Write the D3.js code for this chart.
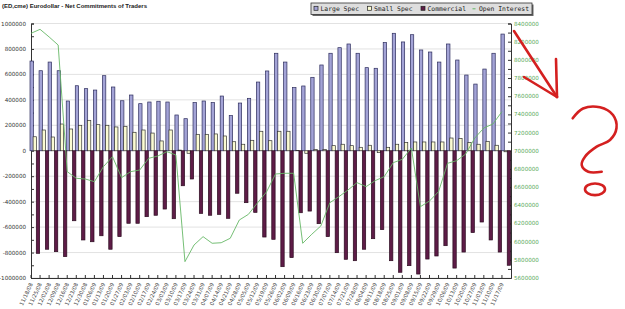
<!DOCTYPE html>
<html>
<head>
<meta charset="utf-8">
<script src="https://cdn.jsdelivr.net/npm/d3@7"></script>
<style>
  body { margin: 0; background: #fff; }
  svg { display: block; }
</style>
</head>
<body>
<svg id="chart" width="625" height="309"></svg>
<script>
// weekly report dates
const dates = ["11/18/08","11/25/08","12/02/08","12/09/08","12/16/08","12/23/08","12/30/08",
  "01/06/09","01/13/09","01/20/09","01/27/09","02/03/09","02/10/09","02/17/09","02/24/09",
  "03/03/09","03/10/09","03/17/09","03/24/09","03/31/09","04/07/09","04/14/09","04/21/09",
  "04/28/09","05/05/09","05/12/09","05/19/09","05/26/09","06/02/09","06/09/09","06/16/09",
  "06/23/09","06/30/09","07/07/09","07/14/09","07/21/09","07/28/09","08/04/09","08/11/09",
  "08/18/09","08/25/09","09/01/09","09/08/09","09/15/09","09/22/09","09/29/09","10/06/09",
  "10/13/09","10/20/09","10/27/09","11/03/09","11/10/09","11/17/09"];

const largeSpec = [705000,629000,697000,629000,391000,511000,488000,477000,590000,501000,
  393000,438000,370000,383000,389000,383000,281000,252000,378000,391000,378000,430000,
  276000,375000,412000,540000,627000,766000,697000,496000,509000,577000,674000,766000,
  810000,839000,766000,653000,648000,850000,923000,855000,912000,792000,776000,697000,
  839000,713000,595000,524000,642000,766000,917000];

const smallSpec = [110000,163000,108000,210000,171000,200000,239000,205000,200000,187000,
  192000,145000,163000,139000,77000,163000,5000,-20000,129000,129000,132000,116000,
  71000,51000,82000,153000,79000,153000,153000,3000,-20000,11000,11000,40000,
  51000,40000,27000,43000,-15000,27000,51000,64000,69000,69000,69000,69000,
  100000,97000,64000,51000,74000,43000,-8000];

const commercial = [-806000,-774000,-793000,-832000,-550000,-701000,-715000,-668000,-774000,-675000,
  -570000,-570000,-518000,-507000,-458000,-534000,-275000,-222000,-492000,-507000,-500000,-531000,
  -334000,-408000,-484000,-678000,-696000,-911000,-840000,-487000,-474000,-573000,-675000,-801000,
  -853000,-864000,-774000,-691000,-620000,-864000,-955000,-903000,-969000,-851000,-827000,-746000,
  -922000,-796000,-643000,-560000,-701000,-796000,-900000];

const openInterest = [8292000,8336000,8252000,8163000,6770000,6697000,6689000,6660000,6825000,6935000,
  6704000,6770000,6788000,6917000,6942000,6990000,6953000,5780000,5963000,6055000,5982000,5988000,
  6037000,6238000,6300000,6425000,6546000,6744000,6752000,6752000,5982000,6081000,6172000,6429000,
  6495000,6568000,6649000,6605000,6671000,6715000,6869000,6906000,7030000,6385000,6447000,6550000,
  6862000,6891000,6964000,7140000,7250000,7294000,7430000];

const leftTicks = [1000000,800000,600000,400000,200000,0,-200000,-400000,-600000,-800000,-1000000];
const rightTicks = [8400000,8200000,8000000,7800000,7600000,7400000,7200000,7000000,
  6800000,6600000,6400000,6200000,6000000,5800000,5600000];

const seriesNames = ["Large Spec", "Small Spec", "Commercial", "Open Interest"];

const colors = {
  large: "#a3a3d6", largeStroke: "#2c2c5c",
  small: "#fbfbd2", smallStroke: "#333333",
  comm: "#5e1c47", commStroke: "#2a0a1e",
  oi: "#66b866", oiText: "#5aaa5a"
};

const svg = d3.select("#chart");

const plotLeft = 31, plotRight = 511, plotTop = 23.5, plotBottom = 278;

const x = d3.scaleBand().domain(dates).range([plotLeft, plotRight]).padding(0);
const yL = d3.scaleLinear().domain([-1000000, 1000000]).range([plotBottom, plotTop]);
const yR = d3.scaleLinear().domain([5600000, 8400000]).range([plotBottom, plotTop]);
const step = x.step();
const bw = step * 0.37;

// title
svg.append("text")
  .attr("x", 2).attr("y", 8)
  .style("font-family", "'Liberation Sans', Arial, sans-serif")
  .style("font-weight", "bold")
  .style("font-size", "6px")
  .attr("fill", "#222")
  .text("(ED,cme) Eurodollar - Net Commitments of Traders");

// gridlines
svg.append("g")
  .selectAll("line")
  .data(leftTicks)
  .join("line")
  .attr("x1", plotLeft).attr("x2", plotRight)
  .attr("y1", d => yL(d)).attr("y2", d => yL(d))
  .attr("stroke", "#e2e2e2")
  .attr("stroke-width", 1);

// left axis
const leftAxis = svg.append("g")
  .attr("transform", `translate(${plotLeft},0)`)
  .call(d3.axisLeft(yL).tickValues(d3.range(-1000000, 1000001, 100000)).tickSize(-3).tickFormat(""));
leftAxis.select(".domain").attr("stroke", "#333");
leftAxis.selectAll(".tick line").attr("stroke", "#333");

svg.append("g")
  .selectAll("text")
  .data(leftTicks)
  .join("text")
  .attr("x", 26)
  .attr("y", d => yL(d) + 2)
  .attr("text-anchor", "end")
  .style("font-family", "'DejaVu Sans', Verdana, sans-serif")
  .style("font-size", "5.6px")
  .attr("fill", "#333")
  .text(d => d);

// right axis
const rightAxis = svg.append("g")
  .attr("transform", `translate(${plotRight},0)`)
  .call(d3.axisRight(yR).tickValues(d3.range(5600000, 8400001, 100000)).tickSize(-3).tickFormat(""));
rightAxis.select(".domain").attr("stroke", "#333");
rightAxis.selectAll(".tick line").attr("stroke", "#333");

svg.append("g")
  .selectAll("text")
  .data(rightTicks)
  .join("text")
  .attr("x", 514)
  .attr("y", d => yR(d) + 2)
  .style("font-family", "'DejaVu Sans', Verdana, sans-serif")
  .style("font-size", "5.6px")
  .attr("fill", colors.oiText)
  .text(d => d);

// bars
const bars = svg.append("g");
function barY(v) { return v >= 0 ? yL(v) : yL(0); }
function barH(v) { return Math.abs(yL(v) - yL(0)); }

bars.selectAll(".large")
  .data(largeSpec)
  .join("rect")
  .attr("class", "large")
  .attr("x", (d, i) => x(dates[i]) - 1)
  .attr("y", d => barY(d))
  .attr("width", bw)
  .attr("height", d => barH(d))
  .attr("fill", colors.large)
  .attr("stroke", colors.largeStroke)
  .attr("stroke-width", 0.7);

bars.selectAll(".small")
  .data(smallSpec)
  .join("rect")
  .attr("class", "small")
  .attr("x", (d, i) => x(dates[i]) + 2.1)
  .attr("y", d => barY(d))
  .attr("width", bw)
  .attr("height", d => barH(d))
  .attr("fill", colors.small)
  .attr("stroke", colors.smallStroke)
  .attr("stroke-width", 0.7);

bars.selectAll(".comm")
  .data(commercial)
  .join("rect")
  .attr("class", "comm")
  .attr("x", (d, i) => x(dates[i]) + 5.3)
  .attr("y", d => barY(d))
  .attr("width", bw)
  .attr("height", d => barH(d))
  .attr("fill", colors.comm)
  .attr("stroke", colors.commStroke)
  .attr("stroke-width", 0.7);

// open interest line
const line = d3.line()
  .x((d, i) => x(dates[i]))
  .y(d => yR(d));

svg.append("path")
  .datum(openInterest)
  .attr("d", line)
  .attr("fill", "none")
  .attr("stroke", colors.oi)
  .attr("stroke-width", 0.9);

// x axis
const xAxis = svg.append("g")
  .attr("transform", `translate(0,${plotBottom})`)
  .call(d3.axisBottom(x).tickSize(-3).tickSizeOuter(0));
xAxis.select(".domain").attr("stroke", "#333");
xAxis.selectAll(".tick").attr("transform", d => `translate(${x(d)},0)`);
xAxis.selectAll(".tick line").attr("stroke", "#333");
xAxis.selectAll(".tick text")
  .attr("y", 0).attr("dy", 0)
  .attr("transform", "translate(2,6) rotate(-65)")
  .attr("text-anchor", "end")
  .style("font-family", "'DejaVu Sans', Verdana, sans-serif")
  .style("font-size", "5.4px")
  .attr("fill", "#444");

// legend
const legend = svg.append("g");
legend.append("rect")
  .attr("x", 312.5).attr("y", 4.5).attr("width", 221).attr("height", 11.5)
  .attr("fill", "#666");
legend.append("rect")
  .attr("x", 311).attr("y", 3).attr("width", 221).attr("height", 11.5)
  .attr("fill", "#dedede").attr("stroke", "#333").attr("stroke-width", 0.8);

const legendX = [314, 367.5, 421, 472.5];
const legendFill = [colors.large, colors.small, colors.comm, colors.oi];
legend.selectAll(".sw")
  .data(seriesNames)
  .join("rect")
  .attr("x", (d, i) => legendX[i])
  .attr("y", (d, i) => i === 3 ? 8.3 : 6.3)
  .attr("width", (d, i) => i === 3 ? 3 : 4)
  .attr("height", (d, i) => i === 3 ? 1 : 4)
  .attr("fill", (d, i) => legendFill[i])
  .attr("stroke", (d, i) => i === 3 ? "none" : "#222")
  .attr("stroke-width", 0.7);
legend.selectAll(".lt")
  .data(seriesNames)
  .join("text")
  .attr("x", (d, i) => legendX[i] + 6.5)
  .attr("y", 11.2)
  .style("font-family", "'DejaVu Sans Mono', monospace")
  .style("font-size", "6.4px")
  .attr("fill", "#222")
  .text(d => d);

// hand drawn red annotation
const red = "#d42020";
const ann = svg.append("g")
  .attr("fill", "none")
  .attr("stroke", red)
  .attr("stroke-width", 2.6)
  .attr("stroke-linecap", "round")
  .attr("stroke-linejoin", "round");
ann.append("path").attr("d", "M514,31 L557,97");
ann.append("path").attr("d", "M556,59 L557,97");
ann.append("path").attr("d", "M524,77 L557,97");
const qmark = [[572.7,118.3],[583,108.5],[600,107.3],[613,115],[616.5,128],[610,140],
  [596.7,146.7],[585,156.7],[581.7,165],[588.3,171.7],[601.7,171.7]];
ann.append("path")
  .attr("d", d3.line().curve(d3.curveCatmullRom)(qmark));
ann.append("ellipse")
  .attr("cx", 595).attr("cy", 189.3).attr("rx", 10).attr("ry", 5.8);
</script>
</body>
</html>
